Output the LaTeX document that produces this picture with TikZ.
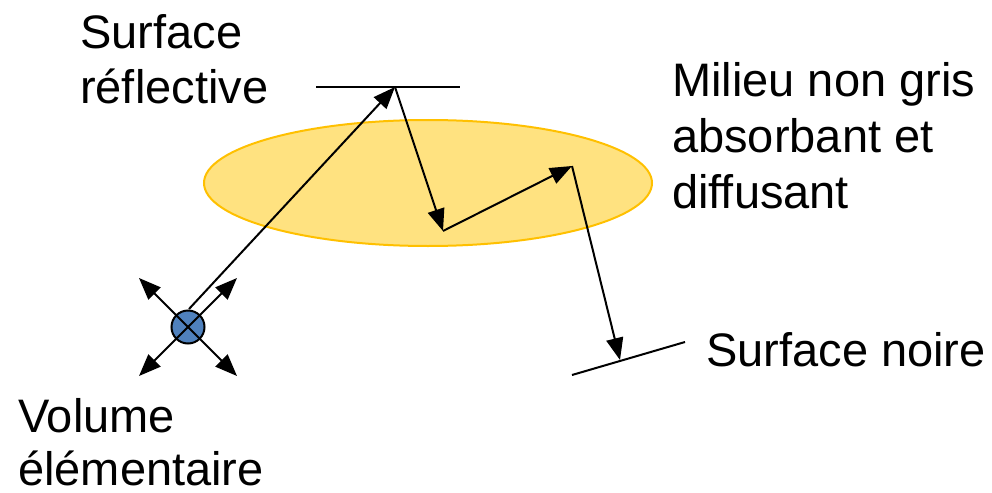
\documentclass[tikz,border=0pt]{standalone}
\usepackage{fontspec}
\setmainfont{Liberation Sans}
\usetikzlibrary{arrows.meta,shapes.geometric}
\definecolor{ellfill}{RGB}{255,226,128}
\definecolor{elldraw}{RGB}{255,192,0}
\definecolor{volblue}{RGB}{79,129,189}
\begin{document}
\begin{tikzpicture}[x=1pt,y=-1pt,
  lbl/.style={anchor=base west,inner sep=0pt,font=\fontsize{47}{55}\selectfont},
  ray/.style={line width=2pt,-{Triangle[length=22pt,width=17pt]}},
  twoway/.style={line width=2pt,{Triangle[length=22pt,width=17pt]}-{Triangle[length=22pt,width=17pt]}},
  surf/.style={line width=2pt}]
\useasboundingbox (0,0) rectangle (992,492);
% medium
\node[ellipse,draw=elldraw,fill=ellfill,line width=2pt,minimum width=448pt,minimum height=126pt,inner sep=0pt] (med) at (428,183) {};
% surfaces
\coordinate (rs1) at (316,87);
\coordinate (rs2) at (460,87);
\draw[surf] (rs1) -- (rs2);
\coordinate (bs1) at (572,375);
\coordinate (bs2) at (685,342);
\draw[surf] (bs1) -- (bs2);
% volume element
\coordinate (vc) at (188,327);
\coordinate (tl) at (139,278);
\coordinate (tr) at (237,278);
\coordinate (bl) at (139,376);
\coordinate (br) at (237,376);
\node[circle,draw=black,fill=volblue,line width=2pt,minimum size=33pt,inner sep=0pt] (vol) at (vc) {};
\draw[twoway] (tl) -- (br);
\draw[twoway] (tr) -- (bl);
% ray path
\coordinate (start) at (189,309);
\coordinate (apex) at (395,87);
\coordinate (p1) at (443,231);
\coordinate (p2) at (572,166);
\coordinate (p3) at (620,360);
\draw[ray] (start) -- (apex);
\draw[ray] (apex) -- (p1);
\draw[ray] (p1) -- (p2);
\draw[ray] (p2) -- (p3);
% labels
\node[lbl] (l1a) at (80,49) {Surface};
\node[lbl] (l1b) at (80,103) {réflective};
\node[lbl] (l2a) at (672,96) {Milieu non gris};
\node[lbl] (l2b) at (672,152) {absorbant et};
\node[lbl] (l2c) at (672,208) {diffusant};
\node[lbl] (l3) at (706,366) {Surface noire};
\node[lbl] (l4a) at (18,432) {Volume};
\node[lbl] (l4b) at (18,485) {élémentaire};
\end{tikzpicture}
\end{document}
